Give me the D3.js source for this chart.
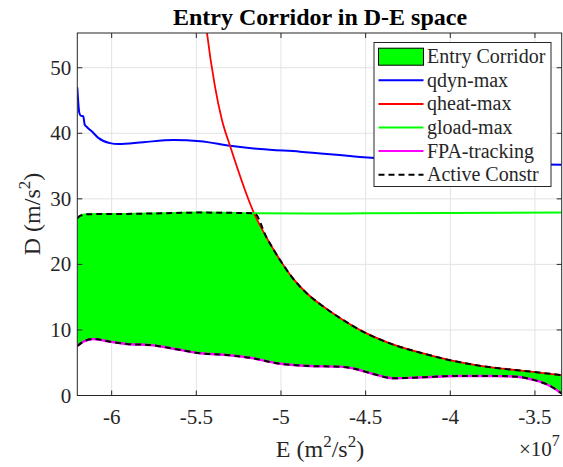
<!DOCTYPE html>
<html>
<head>
<meta charset="utf-8">
<script src="https://cdn.jsdelivr.net/npm/d3@7"></script>
<style>
  body { margin: 0; background: #fff; }
</style>
</head>
<body>
<svg id="chart" width="563" height="467"></svg>
<script>
// E in m^2/s^2, D in m/s^2
var qdynE = [-6.203e7, -6.191e7, -6.183e7, -6.168e7, -6.159e7, -6.148e7, -6.118e7, -6.079e7, -6.010e7, -5.961e7, -5.813e7, -5.636e7, -5.478e7, -5.301e7, -5.124e7, -4.888e7, -4.533e7, -4.297e7, -4.002e7, -3.707e7, -3.342e7];
var qdynD = [47.0, 43.1, 42.7, 42.6, 41.3, 41.0, 40.3, 39.3, 38.5, 38.35, 38.65, 38.96, 38.8, 38.1, 37.6, 37.2, 36.4, 36.0, 35.7, 35.4, 35.2];

var qheatE = [-5.446e7, -5.437e7, -5.390e7, -5.349e7, -5.301e7, -5.159e7, -5.084e7, -5.006e7, -4.927e7, -4.848e7, -4.750e7, -4.652e7, -4.494e7, -4.356e7, -4.160e7, -4.003e7, -3.821e7, -3.664e7, -3.510e7, -3.342e7];
var qheatD = [57.3, 55.3, 47.15, 42.06, 38.09, 27.8, 24.05, 20.69, 17.79, 15.6, 13.57, 11.83, 9.47, 7.95, 6.41, 5.39, 4.52, 4.02, 3.6, 3.1];

var gloadE = [-6.203e7, -6.187e7, -6.148e7, -6.050e7, -5.910e7, -5.700e7, -5.480e7, -5.159e7, -4.830e7, -4.500e7, -4.000e7, -3.342e7];
var gloadD = [27.05, 27.4, 27.65, 27.68, 27.7, 27.8, 27.9, 27.8, 27.75, 27.8, 27.85, 27.9];

var fpaE = [-6.203e7, -6.168e7, -6.109e7, -6.010e7, -5.911e7, -5.774e7, -5.616e7, -5.478e7, -5.321e7, -5.164e7, -5.025e7, -4.829e7, -4.652e7, -4.553e7, -4.455e7, -4.337e7, -4.160e7, -3.962e7, -3.766e7, -3.608e7, -3.529e7, -3.471e7, -3.411e7, -3.342e7];
var fpaD = [7.56, 8.21, 8.63, 8.21, 7.86, 7.71, 7.05, 6.44, 6.18, 5.68, 4.92, 4.5, 4.4, 4.0, 3.28, 2.63, 2.78, 2.98, 2.98, 2.87, 2.52, 2.1, 1.45, 0.3];

var xTicks = [-6e7, -5.5e7, -5e7, -4.5e7, -4e7, -3.5e7];
var yTicks = [0, 10, 20, 30, 40, 50];
var legendLabels = ["Entry Corridor", "qdyn-max", "qheat-max", "gload-max", "FPA-tracking", "Active Constr"];

var svg = d3.select("#chart")
  .attr("font-family", "'Liberation Serif', 'DejaVu Serif', serif");
var pl = 77.3, pr = 561.7, pt = 33, pb = 395.5;

var x = d3.scaleLinear().domain([-6.203e7, -3.342e7]).range([pl, pr]);
var y = d3.scaleLinear().domain([0, 55.3]).range([pb, pt]);

function pts(es, ds) { return es.map(function(e, i) { return [e, ds[i]]; }); }

var qdyn = pts(qdynE, qdynD),
    qheat = pts(qheatE, qheatD),
    gload = pts(gloadE, gloadD),
    fpa = pts(fpaE, fpaD);

// active upper constraint: gload until it meets qheat, then qheat
var cross = -5.159e7;
var upper = gload.filter(function(p) { return p[0] <= cross; })
  .concat(qheat.filter(function(p) { return p[0] > cross; }));

svg.append("defs").append("clipPath").attr("id", "clip")
  .append("rect").attr("x", pl).attr("y", pt).attr("width", pr - pl).attr("height", pb - pt);

// grid
var grid = svg.append("g").attr("stroke", "#e3e3e3").attr("stroke-width", 1);
xTicks.forEach(function(t) {
  grid.append("line").attr("x1", x(t)).attr("x2", x(t)).attr("y1", pt).attr("y2", pb);
});
yTicks.forEach(function(t) {
  grid.append("line").attr("x1", pl).attr("x2", pr).attr("y1", y(t)).attr("y2", y(t));
});

var line = d3.line().x(function(d) { return x(d[0]); }).y(function(d) { return y(d[1]); })
  .curve(d3.curveMonotoneX);

var plot = svg.append("g").attr("clip-path", "url(#clip)");

// corridor fill
var corridor = upper.concat(fpa.slice().reverse());
plot.append("path")
  .attr("d", d3.line().x(function(d) { return x(d[0]); }).y(function(d) { return y(d[1]); })(corridor))
  .attr("fill", "#00ff00").attr("stroke", "none");

plot.append("path").datum(qdyn).attr("d", line)
  .attr("fill", "none").attr("stroke", "#0000ff").attr("stroke-width", 2);
plot.append("path").datum(qheat).attr("d", line)
  .attr("fill", "none").attr("stroke", "#ff0000").attr("stroke-width", 1.8);
plot.append("path").datum(gload).attr("d", line)
  .attr("fill", "none").attr("stroke", "#00ff00").attr("stroke-width", 2);
plot.append("path").datum(fpa).attr("d", line)
  .attr("fill", "none").attr("stroke", "#ff00ff").attr("stroke-width", 2.4);
plot.append("path").datum(upper).attr("d", line)
  .attr("fill", "none").attr("stroke", "#000").attr("stroke-width", 2).attr("stroke-dasharray", "6,4");
plot.append("path").datum(fpa).attr("d", line)
  .attr("fill", "none").attr("stroke", "#000").attr("stroke-width", 2).attr("stroke-dasharray", "6,4");

// axes box and ticks
var ax = svg.append("g").attr("stroke", "#262626").attr("stroke-width", 1);
ax.append("rect").attr("x", pl).attr("y", pt).attr("width", pr - pl).attr("height", pb - pt)
  .attr("fill", "none");
xTicks.forEach(function(t) {
  ax.append("line").attr("x1", x(t)).attr("x2", x(t)).attr("y1", pb).attr("y2", pb - 5);
  ax.append("line").attr("x1", x(t)).attr("x2", x(t)).attr("y1", pt).attr("y2", pt + 5);
});
yTicks.forEach(function(t) {
  ax.append("line").attr("x1", pl).attr("x2", pl + 5).attr("y1", y(t)).attr("y2", y(t));
  ax.append("line").attr("x1", pr).attr("x2", pr - 5).attr("y1", y(t)).attr("y2", y(t));
});

var txt = "#262626";

svg.selectAll(".xt").data(xTicks).enter().append("text")
  .attr("x", function(d) { return x(d); }).attr("y", 424)
  .attr("text-anchor", "middle").attr("font-size", 21).attr("fill", txt)
  .text(function(d) { return d / 1e7; });

svg.selectAll(".yt").data(yTicks).enter().append("text")
  .attr("x", pl - 6).attr("y", function(d) { return y(d) + 7; })
  .attr("text-anchor", "end").attr("font-size", 21).attr("fill", txt)
  .text(function(d) { return d; });

// exponent
var ex = svg.append("text").attr("x", 519).attr("y", 456).attr("font-size", 21).attr("fill", txt);
ex.append("tspan").text("\u00d710");
ex.append("tspan").attr("dy", -10).attr("font-size", 16).text("7");

// labels
var xl = svg.append("text").attr("x", 320).attr("y", 457).attr("text-anchor", "middle")
  .attr("font-size", 24).attr("fill", txt);
xl.append("tspan").text("E (m");
xl.append("tspan").attr("dy", -10).attr("font-size", 17).text("2");
xl.append("tspan").attr("dy", 10).text("/s");
xl.append("tspan").attr("dy", -10).attr("font-size", 17).text("2");
xl.append("tspan").attr("dy", 10).text(")");

var yl = svg.append("text").attr("transform", "translate(40,214) rotate(-90)")
  .attr("text-anchor", "middle").attr("font-size", 24).attr("fill", txt);
yl.append("tspan").text("D (m/s");
yl.append("tspan").attr("dy", -10).attr("font-size", 17).text("2");
yl.append("tspan").attr("dy", 10).text(")");

svg.append("text").attr("x", 320).attr("y", 24.5).attr("text-anchor", "middle")
  .attr("font-size", 24).attr("font-weight", "bold").attr("fill", "#000")
  .text("Entry Corridor in D-E space");

// legend
var lg = svg.append("g");
lg.append("rect").attr("x", 374).attr("y", 42.5).attr("width", 177).attr("height", 144)
  .attr("fill", "#fff").attr("stroke", "#262626").attr("stroke-width", 1);
var legendStyles = [
  { color: "#00ff00", dash: null },
  { color: "#0000ff", dash: null },
  { color: "#ff0000", dash: null },
  { color: "#00ff00", dash: null },
  { color: "#ff00ff", dash: null },
  { color: "#000", dash: "6,4" }
];
legendLabels.forEach(function(lab, i) {
  var cy = 56.7 + i * 23.6;
  if (i === 0) {
    lg.append("rect").attr("x", 378.5).attr("y", cy - 8.5).attr("width", 45).attr("height", 17)
      .attr("fill", legendStyles[i].color).attr("stroke", "#000").attr("stroke-width", 1);
  } else {
    lg.append("line").attr("x1", 378.5).attr("x2", 423.5).attr("y1", cy).attr("y2", cy)
      .attr("stroke", legendStyles[i].color).attr("stroke-width", 2)
      .attr("stroke-dasharray", legendStyles[i].dash);
  }
  lg.append("text").attr("x", 427).attr("y", cy + 6.5).attr("font-size", 20).attr("fill", txt).text(lab);
});
</script>
</body>
</html>
